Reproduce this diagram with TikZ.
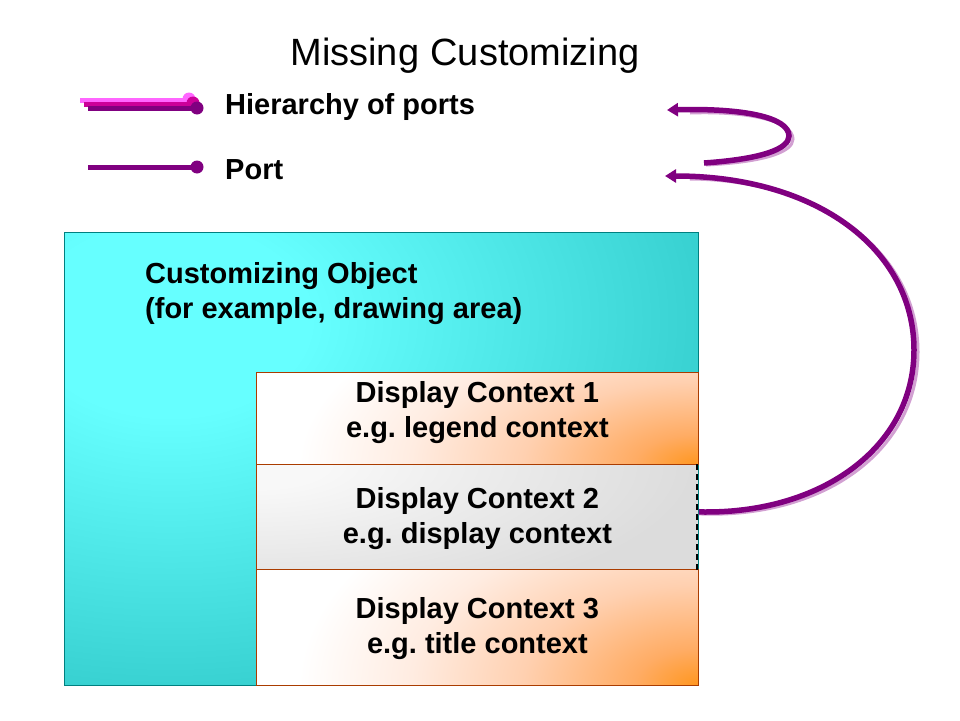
\documentclass[tikz,border=0pt]{standalone}
\usepackage{fontspec}
\setmainfont{Liberation Sans}
\usetikzlibrary{arrows.meta}
\definecolor{cyanL}{RGB}{102,255,255}
\definecolor{cyanD}{RGB}{51,204,204}
\definecolor{tealB}{RGB}{0,128,128}
\definecolor{orangeC}{RGB}{255,150,30}
\definecolor{orangeM}{RGB}{255,172,100}
\definecolor{peach}{RGB}{255,208,176}
\definecolor{peachL}{RGB}{255,236,225}
\definecolor{brownB}{RGB}{170,60,0}
\definecolor{grayL}{RGB}{248,248,248}
\definecolor{grayD}{RGB}{220,220,220}
\definecolor{purpleC}{RGB}{128,0,128}
\definecolor{magentaC}{RGB}{204,0,153}
\definecolor{pinkC}{RGB}{255,102,255}
\definecolor{shadowC}{RGB}{210,160,210}
\pgfdeclareradialshading{orshade}{\pgfpoint{0bp}{0bp}}{color(0bp)=(orangeC); color(4bp)=(orangeM); color(11bp)=(peach); color(18bp)=(peachL); color(25bp)=(white); color(50bp)=(white)}
\pgfdeclareradialshading{cyshade}{\pgfpoint{0bp}{0bp}}{color(0bp)=(cyanL); color(6bp)=(cyanL); color(25bp)=(cyanD); color(50bp)=(cyanD)}
\pgfdeclareradialshading{grshade}{\pgfpoint{0bp}{0bp}}{color(0bp)=(grayL); color(4bp)=(grayL); color(25bp)=(grayD); color(50bp)=(grayD)}
\tikzset{
  box/.style={inner sep=0pt, anchor=north west, line width=0.8pt},
  lbl/.style={font=\bfseries\fontsize{29}{35}\selectfont\frenchspacing, align=center, inner sep=0pt},
  legtxt/.style={font=\bfseries\fontsize{29}{32}\selectfont, anchor=west, inner sep=0pt},
  leg/.style={line width=5pt},
  dot/.style={circle, inner sep=0pt, minimum size=13pt},
  conn/.style={draw=purpleC, line width=5.5pt, -{Triangle[length=11pt,width=13pt]}},
  connsh/.style={draw=shadowC, line width=3pt},
}
\begin{document}
\begin{tikzpicture}[x=1pt,y=-1pt]
\useasboundingbox (0,0) rectangle (960,720);
% title
\node[font=\fontsize{38}{42}\selectfont, inner sep=0pt, anchor=base] (title) at (465,65) {Missing\hspace{0.3em}Customizing};
% legend
\draw[leg, pinkC] (80,100) -- (188,100);
\node[dot, fill=pinkC] (d1) at (189,99) {};
\draw[leg, magentaC] (84,104) -- (192,104);
\node[dot, fill=magentaC] (d2) at (193,103) {};
\draw[leg, purpleC] (88,108) -- (196,108);
\node[dot, fill=purpleC] (d3) at (197,108) {};
\node[legtxt] (hier) at (225,107) {Hierarchy of ports};
\draw[leg, purpleC] (88,167) -- (196,167);
\node[dot, fill=purpleC] (d4) at (197,167) {};
\node[legtxt] (port) at (225,170) {Port};
% customizing object
\node[box, minimum width=634pt, minimum height=453pt, fill=cyanD] (cust) at (64,232) {};
\begin{scope}
\clip (cust.north west) rectangle (cust.south east);
\shade[shading=cyshade] (170,320) ellipse [x radius=580, y radius=400];
\end{scope}
\draw[tealB, line width=0.8pt] (cust.north west) rectangle (cust.south east);
\node[lbl, align=left, anchor=north west] (custtxt) at (145,262) {Customizing Object\\(for example, drawing area)};
% display contexts
\node[box, minimum width=442pt, minimum height=92pt, fill=white] (dc1) at (256,372) {};
\node[box, minimum width=442pt, minimum height=105pt, fill=grayD] (dc2) at (256,464) {};
\node[box, minimum width=442pt, minimum height=116pt, fill=white] (dc3) at (256,569) {};
\begin{scope}
\clip (dc1.north west) rectangle (dc1.south east);
\shade[shading=orshade] (dc1.south east) ellipse [x radius=400, y radius=190];
\end{scope}
\begin{scope}
\clip (dc2.north west) rectangle (dc2.south east);
\shade[shading=grshade] (dc2.north west) ellipse [x radius=440, y radius=150];
\end{scope}
\begin{scope}
\clip (dc3.north west) rectangle (dc3.south east);
\shade[shading=orshade] (dc3.south east) ellipse [x radius=400, y radius=230];
\end{scope}
\draw[brownB, line width=0.8pt] (dc1.north west) rectangle (dc1.south east);
\draw[brownB, line width=0.8pt] (dc3.north west) rectangle (dc3.south east);
\draw[brownB, line width=0.8pt] (dc2.north east) -- (dc2.north west) -- (dc2.south west) -- (dc2.south east);
\draw[black, line width=2.4pt, dash pattern=on 6pt off 4pt] ([xshift=-2pt]dc2.north east) -- ([xshift=-2pt]dc2.south east);
\node[lbl] (dc1t) at ([yshift=6pt]dc1.center) {Display Context 1\\e.g. legend context};
\node[lbl] (dc2t) at ([yshift=-2pt]dc2.center) {Display Context 2\\e.g. display context};
\node[lbl] (dc3t) at ([yshift=-1pt]dc3.center) {Display Context 3\\e.g. title context};
% connectors
\coordinate (a1s) at (704,163);
\coordinate (a1e) at (667,110);
\coordinate (a2s) at ([yshift=5pt]dc2.east);
\coordinate (a2e) at (665,176);
\draw[connsh] ([shift={(2,2)}]a1s) .. controls (765,162) and (793,152) .. (793,139) .. controls (793,120) and (745,111) .. (690,113);
\draw[conn] (a1s) .. controls (762,159) and (789,149) .. (789,136) .. controls (789,117) and (742,108) .. (a1e);
\draw[connsh] ([shift={(0,2)}]a2s) .. controls (822,519) and (918,452) .. (918,352) .. controls (918,252) and (822,180) .. (690,179);
\draw[conn] (a2s) .. controls (820,515) and (914,448) .. (914,350) .. controls (914,250) and (818,176) .. (a2e);
\end{tikzpicture}
\end{document}
